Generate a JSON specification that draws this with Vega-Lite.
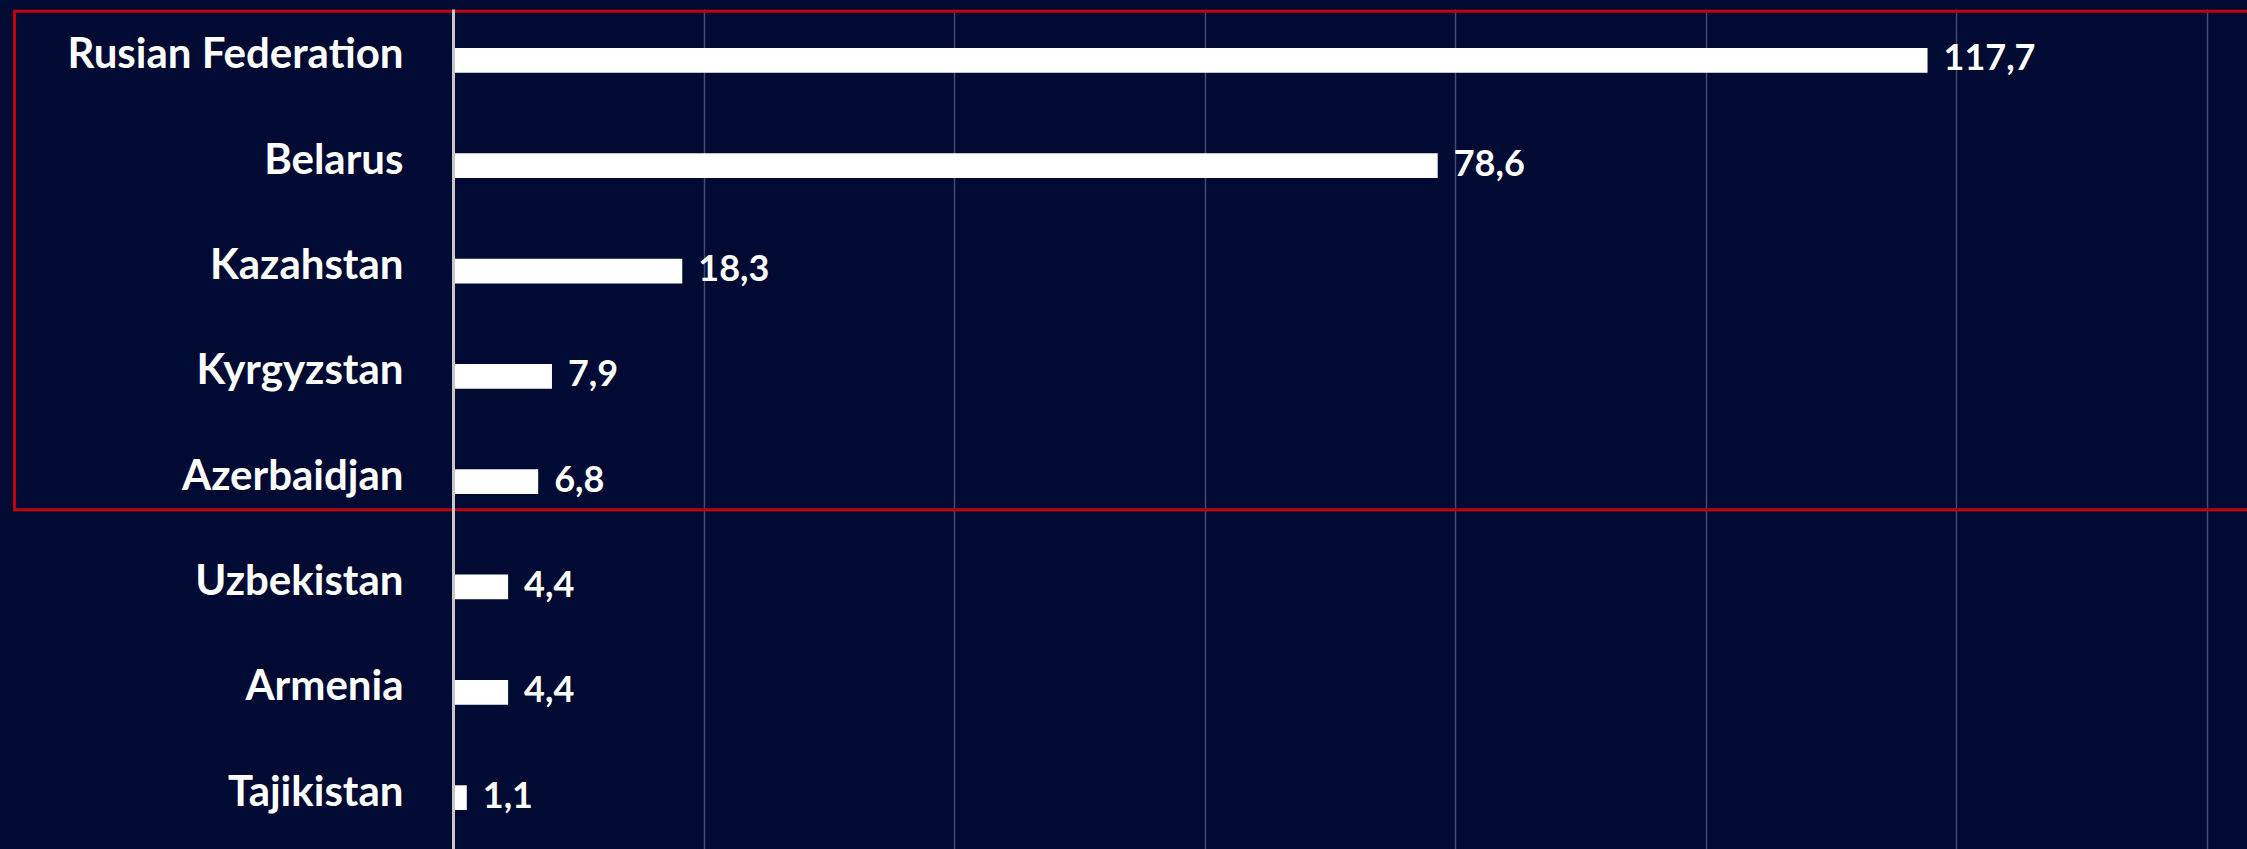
{
  "$schema": "https://vega.github.io/schema/vega-lite/v6.json",
  "width": 1794,
  "height": 840,
  "autosize": {"type": "none"},
  "padding": {"left": 453, "top": 9, "right": 0, "bottom": 0},
  "background": "#000a33",
  "config": {
    "view": {"stroke": null},
    "locale": {"number": {"decimal": ",", "thousands": ".", "grouping": [3], "currency": ["", ""]}},
    "axisX": {"title": null, "labels": false, "ticks": false, "domain": false, "grid": true, "gridColor": "#444a70", "gridWidth": 1.5},
    "axisY": {"title": null, "ticks": false, "grid": false, "domain": true, "domainColor": "#c8c8cc", "domainWidth": 3, "labelColor": "#ffffff", "labelFont": "Lato", "labelFontWeight": "bold", "labelFontSize": 42, "labelPadding": 50, "labelOffset": -5, "labelLimit": 440}
  },
  "datasets": {
    "countries": [
      {"country": "Rusian Federation", "value": 117.7},
      {"country": "Belarus", "value": 78.6},
      {"country": "Kazahstan", "value": 18.3},
      {"country": "Kyrgyzstan", "value": 7.9},
      {"country": "Azerbaidjan", "value": 6.8},
      {"country": "Uzbekistan", "value": 4.4},
      {"country": "Armenia", "value": 4.4},
      {"country": "Tajikistan", "value": 1.1}
    ],
    "highlight": [
      {"from": "Rusian Federation", "to": "Azerbaidjan", "start": -35, "end": 160}
    ]
  },
  "layer": [
    {
      "data": {"name": "highlight"},
      "mark": {"type": "rect", "fill": "transparent", "stroke": "#c4000f", "strokeWidth": 3, "yOffset": -49, "y2Offset": 28},
      "encoding": {
        "x": {"field": "start", "type": "quantitative", "scale": {"domain": [0, 143.2], "nice": false, "zero": true}, "axis": {"values": [20, 40, 60, 80, 100, 120, 140]}},
        "x2": {"field": "end"},
        "y": {"field": "from", "type": "nominal", "sort": null, "scale": {"domain": ["Rusian Federation", "Belarus", "Kazahstan", "Kyrgyzstan", "Azerbaidjan", "Uzbekistan", "Armenia", "Tajikistan"], "paddingInner": 0.765, "paddingOuter": 0.37}},
        "y2": {"field": "to"}
      }
    },
    {
      "data": {"name": "countries"},
      "mark": {"type": "bar", "color": "#ffffff"},
      "encoding": {
        "x": {"field": "value", "type": "quantitative", "scale": {"domain": [0, 143.2], "nice": false}, "axis": {"values": [20, 40, 60, 80, 100, 120, 140]}},
        "y": {"field": "country", "type": "nominal", "sort": null}
      }
    },
    {
      "data": {"name": "countries"},
      "mark": {"type": "text", "align": "left", "baseline": "middle", "dx": 16, "dy": -1, "color": "#ffffff", "font": "Lato", "fontWeight": "bold", "fontSize": 36},
      "encoding": {
        "x": {"field": "value", "type": "quantitative", "axis": {"values": [20, 40, 60, 80, 100, 120, 140]}},
        "y": {"field": "country", "type": "nominal", "sort": null},
        "text": {"field": "value", "type": "quantitative", "format": ".1f"}
      }
    }
  ]
}
